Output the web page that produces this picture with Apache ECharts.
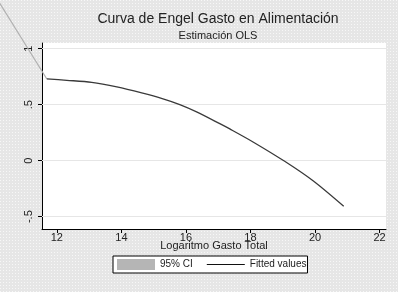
<!DOCTYPE html>
<html>
<head>
<meta charset="utf-8">
<script src="https://cdn.jsdelivr.net/npm/echarts@6/dist/echarts.min.js"></script>
<style>
  html, body { margin: 0; padding: 0; }
  #chart { width: 398px; height: 292px; }
</style>
</head>
<body>
<div id="chart"></div>
<script>
// Log total spending (x) and fitted food share (y)
const gastoLog = [11.69, 12.31, 13.08, 13.86, 14.63, 15.29, 15.81, 16.33, 17.05, 17.36, 18.08, 19.06, 19.94, 20.89];
const fitted = [0.729, 0.717, 0.699, 0.658, 0.604, 0.551, 0.500, 0.435, 0.330, 0.283, 0.167, -0.006, -0.180, -0.408];
// half width of the 95% CI band
const ciHalf = [0.012, 0.011, 0.009, 0.007, 0.005, 0.004, 0.004, 0.004, 0.004, 0.004, 0.005, 0.005, 0.006, 0.007];
// CI edge running off the plot region at the left
const ciEdgeX = [10.2, 11.69];
const ciEdgeY = [1.42, 0.729];
const xTicks = [12, 14, 16, 18, 20, 22];
const yTicks = [-0.5, 0, 0.5, 1];

document.addEventListener("DOMContentLoaded", function () {
    let chart = echarts.init(document.getElementById("chart"));

    // stippled Stata-like background
    let pat = document.createElement("canvas");
    pat.width = 3; pat.height = 3;
    let ctx = pat.getContext("2d");
    ctx.fillStyle = "#e6e6e6";
    ctx.fillRect(0, 0, 3, 3);
    ctx.fillStyle = "#f7f7f7";
    ctx.fillRect(0, 0, 1, 1);

    let lower = gastoLog.map((x, i) => [x, fitted[i] - ciHalf[i]]);
    let band = gastoLog.map((x, i) => [x, 2 * ciHalf[i]]);
    let fit = gastoLog.map((x, i) => [x, fitted[i]]);
    let edge = ciEdgeX.map((x, i) => [x, ciEdgeY[i]]);

    let font = "Liberation Sans";
    let W = 398, H = 292;
    let plot = { left: 42, right: 12, top: 43, bottom: 63 };
    let xMin = 11.54, xMax = 22.2, yMin = -0.61, yMax = 1.05;
    // full-canvas grid with the same scale, so the CI edge can run outside the plot region
    let xPer = (xMax - xMin) / (W - plot.left - plot.right);
    let yPer = (yMax - yMin) / (H - plot.top - plot.bottom);
    let x2Min = xMin - plot.left * xPer, x2Max = xMax + plot.right * xPer;
    let y2Min = yMin - plot.bottom * yPer, y2Max = yMax + plot.top * yPer;

    let option = {
        backgroundColor: { image: pat, repeat: "repeat" },
        textStyle: { fontFamily: font },
        title: {
            text: "Curva de Engel Gasto en Alimentación",
            subtext: "Estimación OLS",
            left: 213,
            top: 7,
            textAlign: "center",
            itemGap: 4,
            textStyle: { fontFamily: font, fontSize: 14, fontWeight: "normal", color: "#222" },
            subtextStyle: { fontFamily: font, fontSize: 11, color: "#222" }
        },
        grid: [
            {
                left: plot.left, right: plot.right, top: plot.top, bottom: plot.bottom,
                show: true,
                backgroundColor: "#ffffff",
                borderWidth: 0
            },
            { left: 0, right: 0, top: 0, bottom: 0, show: false }
        ],
        legend: {
            left: 113,
            top: 256,
            padding: [3, 1, 3, 4],
            backgroundColor: "#ffffff",
            borderColor: "#000",
            borderWidth: 1,
            borderRadius: 0,
            itemWidth: 38,
            itemHeight: 11,
            itemGap: 14,
            textStyle: { fontFamily: font, fontSize: 10, color: "#222" },
            data: [
                { name: "95% CI", icon: "rect", itemStyle: { color: "#b5b5b5" } },
                { name: "Fitted values", icon: "path://M0,0 H40 V1 H0 Z", itemStyle: { color: "#111" } }
            ]
        },
        xAxis: [
            {
                type: "value",
                gridIndex: 0,
                min: xMin,
                max: xMax,
                name: "Logaritmo Gasto Total",
                nameLocation: "middle",
                nameGap: 11,
                nameMoveOverlap: false,
                nameTextStyle: { fontFamily: font, fontSize: 11, color: "#222" },
                axisLine: { show: true, onZero: false, lineStyle: { color: "#000", width: 1 } },
                axisTick: { show: true, length: 4, customValues: xTicks, lineStyle: { color: "#000" } },
                axisLabel: { customValues: xTicks, fontSize: 11, color: "#222", margin: 3 },
                splitLine: { show: false }
            },
            { type: "value", gridIndex: 1, min: x2Min, max: x2Max, show: false }
        ],
        yAxis: [
            {
                type: "value",
                gridIndex: 0,
                min: yMin,
                max: yMax,
                axisLine: { show: true, onZero: false, lineStyle: { color: "#000", width: 1 } },
                axisTick: { show: true, length: 4, customValues: yTicks, lineStyle: { color: "#000" } },
                axisLabel: {
                    customValues: yTicks,
                    rotate: 90,
                    fontSize: 11,
                    color: "#222",
                    margin: 8,
                    formatter: v => v === 0 ? "0" : String(v).replace("0.", ".")
                },
                splitLine: { show: false }
            },
            { type: "value", gridIndex: 1, min: y2Min, max: y2Max, show: false }
        ],
        series: [
            {
                name: "grid",
                type: "line",
                data: [],
                silent: true,
                z: 1,
                markLine: {
                    silent: true,
                    symbol: "none",
                    z: 1,
                    label: { show: false },
                    lineStyle: { color: "#e6e6e6", type: "solid", width: 1 },
                    data: yTicks.map(v => ({ yAxis: v }))
                }
            },
            {
                name: "lower",
                type: "line",
                data: lower,
                stack: "ci",
                smooth: 0.3,
                symbol: "none",
                z: 2,
                lineStyle: { opacity: 0 },
                silent: true
            },
            {
                name: "95% CI",
                type: "line",
                data: band,
                stack: "ci",
                smooth: 0.3,
                symbol: "none",
                z: 2,
                lineStyle: { opacity: 0 },
                areaStyle: { color: "#b5b5b5", opacity: 1 },
                itemStyle: { color: "#b5b5b5" },
                silent: true
            },
            {
                name: "edge",
                type: "line",
                xAxisIndex: 1,
                yAxisIndex: 1,
                data: edge,
                symbol: "none",
                z: 3,
                lineStyle: { color: "#b0b0b0", width: 1.2 },
                silent: true
            },
            {
                name: "Fitted values",
                type: "line",
                data: fit,
                smooth: 0.3,
                symbol: "none",
                z: 4,
                lineStyle: { color: "#3a3a3a", width: 1.3 },
                itemStyle: { color: "#111" }
            }
        ]
    };
    chart.setOption(option);
});
</script>
</body>
</html>
